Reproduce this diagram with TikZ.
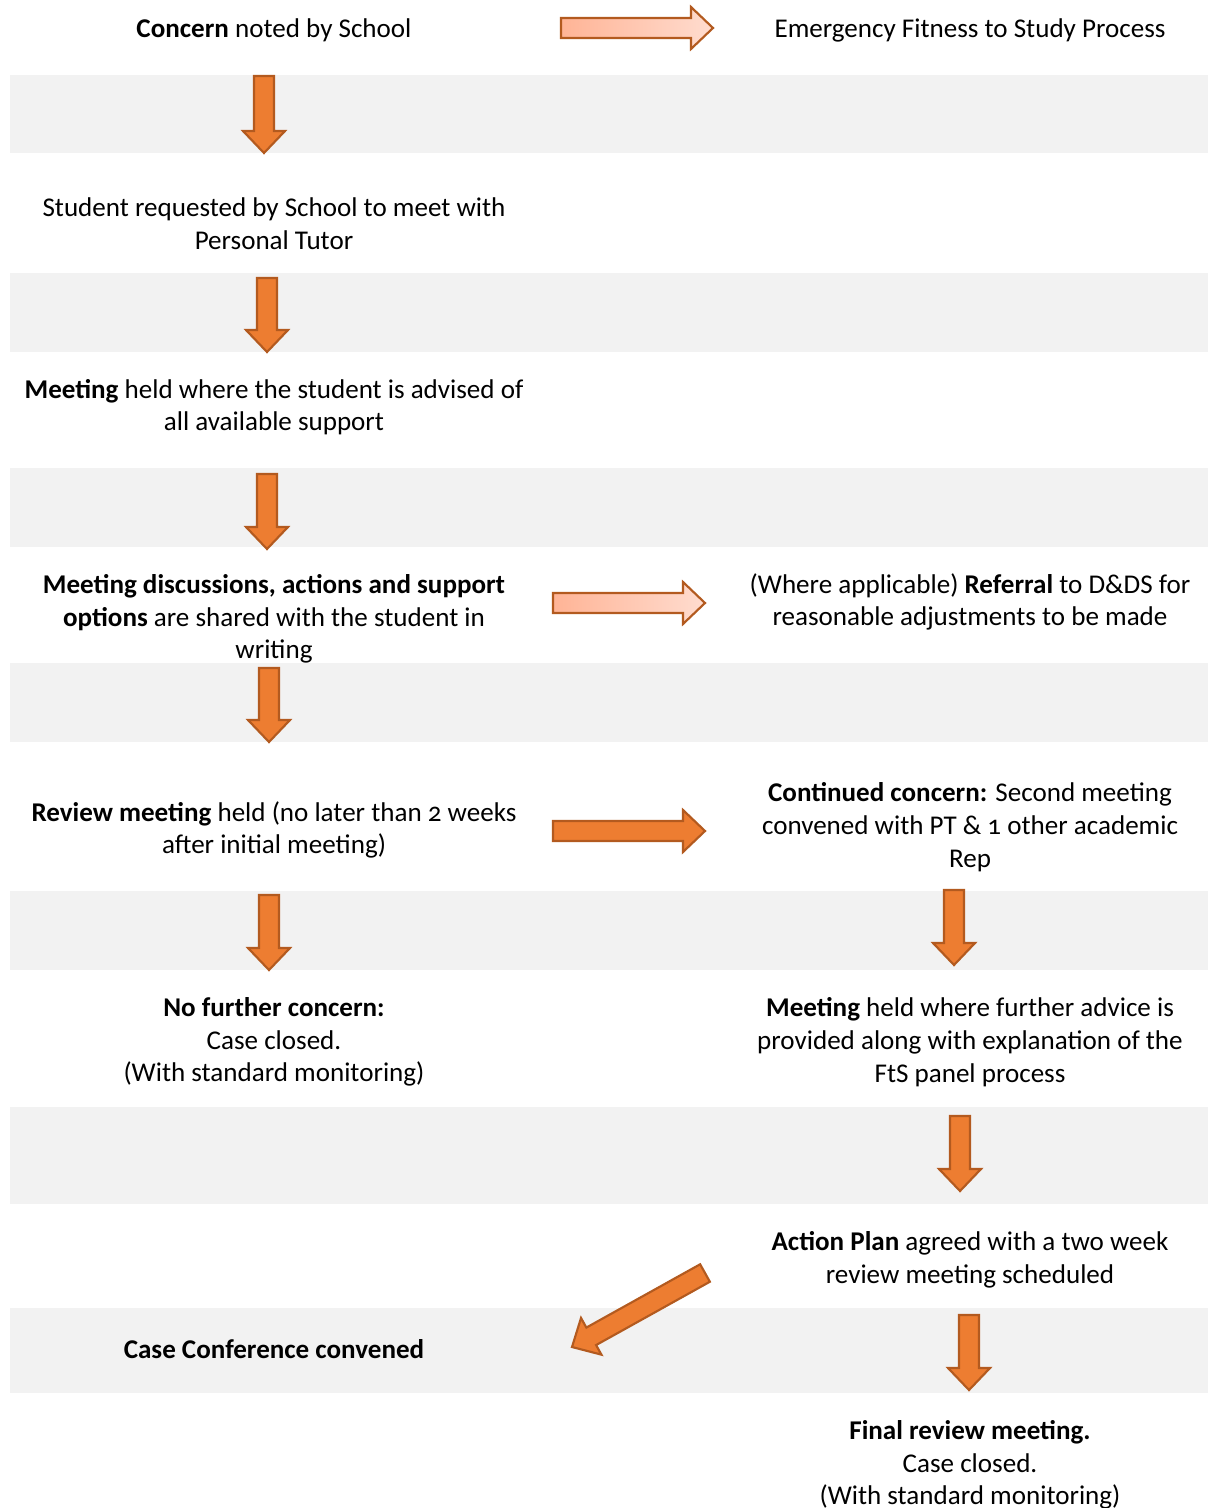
\documentclass[tikz,border=0pt]{standalone}
\usepackage{fontspec}
\setmainfont{Carlito}[Numbers=OldStyle]
\usetikzlibrary{calc}
\definecolor{band}{HTML}{F2F2F2}
\definecolor{orng}{HTML}{ED7D31}
\definecolor{orngdark}{HTML}{B35A1F}
\definecolor{lightA}{HTML}{FFB496}
\definecolor{lightB}{HTML}{FFDCCF}
\newcommand\blockarr[3][]{%
  \path[#1]
    ($(#2)!7.5pt!90:(#3)$) --
    ($($(#3)!16.5pt!(#2)$)!7.5pt!-90:(#2)$) --
    ($($(#3)!16.5pt!(#2)$)!15.75pt!-90:(#2)$) --
    (#3) --
    ($($(#3)!16.5pt!(#2)$)!15.75pt!90:(#2)$) --
    ($($(#3)!16.5pt!(#2)$)!7.5pt!90:(#2)$) --
    ($(#2)!7.5pt!-90:(#3)$) -- cycle;}
\begin{document}
\begin{tikzpicture}[x=0.75pt,y=-0.75pt,
  txt/.style={align=center,font=\fontsize{20.3pt}{24.5pt}\selectfont,inner sep=0pt},
  darkarr/.style={fill=orng,draw=orngdark,line width=1.6pt,line join=miter},
  lightarr/.style={left color=lightA,right color=lightB,draw=orngdark,line width=1.6pt,line join=miter},
  bandbox/.style={fill=band,draw=none}]
\useasboundingbox (0,0) rectangle (1208,1508);
\fill[white] (0,0) rectangle (1208,1508);
% bands
\foreach \a/\b in {75/153,273/352,468/547,663/742,891/970,1107/1204,1308/1393}
  \path[bandbox] (10,\a) rectangle (1208,\b);
% texts
\node[txt] (t1) at (274,30) {\textbf{Concern} noted by School};
\node[txt] (t2) at (970,30) {Emergency Fitness to Study Process};
\node[txt] (t3) at (274,224) {Student requested by School to meet with\\Personal Tutor};
\node[txt] (t4) at (274,407) {\textbf{Meeting} held where the student is advised of\\all available support};
\node[txt] (t5) at (274,619) {\textbf{Meeting discussions, actions and support}\\\textbf{options} are shared with the student in\\writing};
\node[txt] (t6) at (970,602) {(Where applicable) \textbf{Referral} to D\&DS for\\reasonable adjustments to be made};
\node[txt] (t7) at (274,830) {\textbf{Review meeting} held (no later than 2 weeks\\after initial meeting)};
\node[txt] (t8) at (970,827) {\textbf{Continued concern:} Second meeting\\convened with PT \& 1 other academic\\Rep};
\node[txt] (t9) at (274,1042) {\textbf{No further concern:}\\Case closed.\\(With standard monitoring)};
\node[txt] (t10) at (970,1042) {\textbf{Meeting} held where further advice is\\provided along with explanation of the\\FtS panel process};
\node[txt] (t11) at (970,1260) {\textbf{Action Plan} agreed with a two week\\review meeting scheduled};
\node[txt] (t12) at (274,1349) {\textbf{Case Conference convened}};
\node[txt] (t13) at (970,1465) {\textbf{Final review meeting.}\\Case closed.\\(With standard monitoring)};
% arrow end points
\coordinate (d1s) at (264,76);  \coordinate (d1e) at (264,153);
\coordinate (d2s) at (267,278); \coordinate (d2e) at (267,352);
\coordinate (d3s) at (267,474); \coordinate (d3e) at (267,549);
\coordinate (d4s) at (269,668); \coordinate (d4e) at (269,742);
\coordinate (d5s) at (269,895); \coordinate (d5e) at (269,970);
\coordinate (d6s) at (954,890); \coordinate (d6e) at (954,965);
\coordinate (d7s) at (960,1116); \coordinate (d7e) at (960,1191);
\coordinate (d8s) at (969,1315); \coordinate (d8e) at (969,1390);
\coordinate (r1s) at (561,28);  \coordinate (r1e) at (713,28);
\coordinate (r2s) at (553,603); \coordinate (r2e) at (705,603);
\coordinate (r3s) at (553,831); \coordinate (r3e) at (705,831);
\coordinate (gs) at (705,1273); \coordinate (ge) at (572,1347);
% arrows
\blockarr[lightarr]{r1s}{r1e}
\blockarr[lightarr]{r2s}{r2e}
\blockarr[darkarr]{r3s}{r3e}
\foreach \i in {1,...,8}{\blockarr[darkarr]{d\i s}{d\i e}}
\blockarr[darkarr]{gs}{ge}
\end{tikzpicture}
\end{document}
